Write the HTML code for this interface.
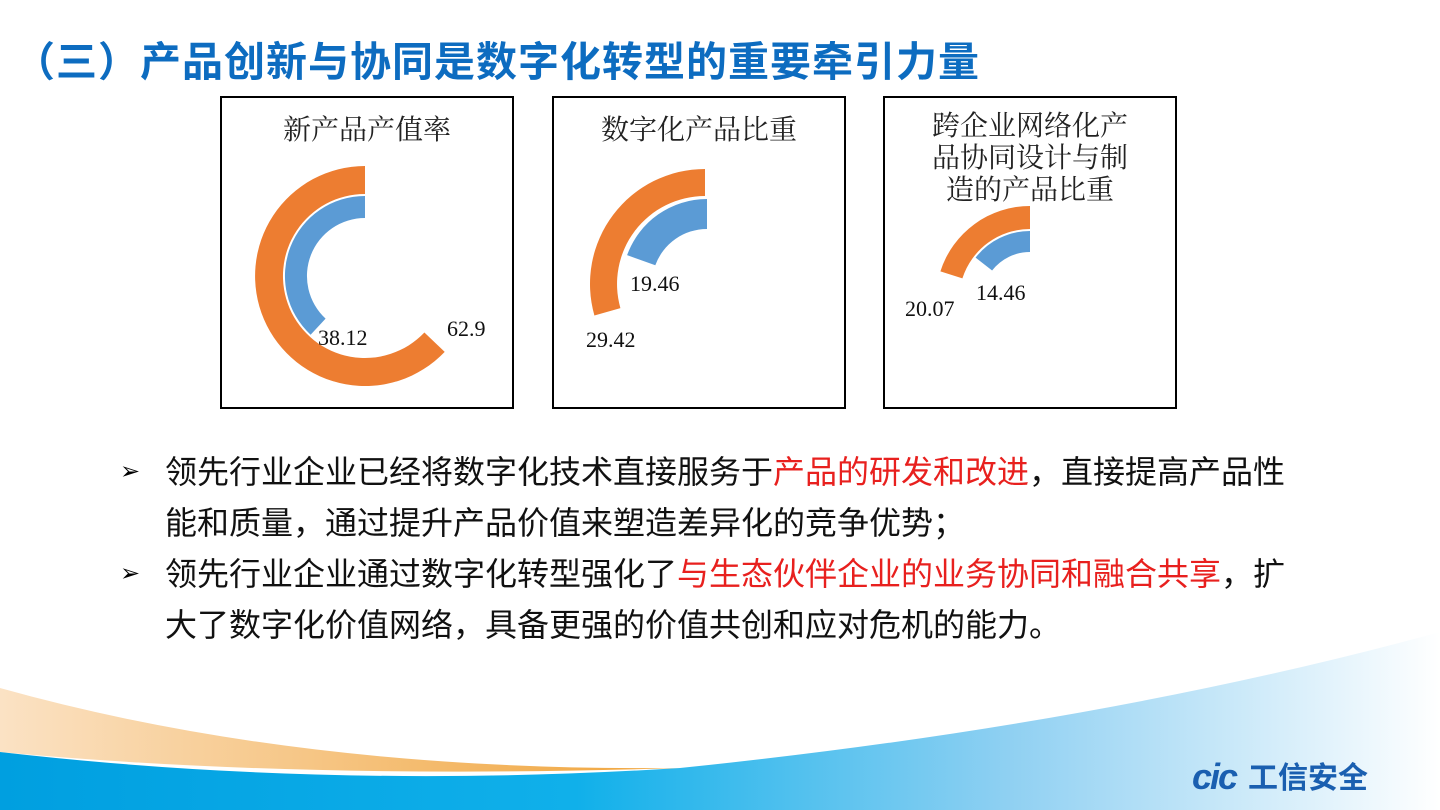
<!DOCTYPE html>
<html><head><meta charset="utf-8"><style>
html,body{margin:0;padding:0;}
body{width:1440px;height:810px;position:relative;overflow:hidden;background:#fff;font-family:"Liberation Sans","Noto Sans CJK SC",sans-serif;}
.title{position:absolute;left:14px;top:28px;font-size:41px;font-weight:bold;color:#0d6cc0;letter-spacing:1px;white-space:nowrap;}
.box{position:absolute;top:96px;width:290px;height:309px;border:2px solid #000;box-sizing:content-box;}
.ct{position:absolute;left:0;right:0;text-align:center;font-family:"Liberation Serif","Noto Serif CJK SC",serif;font-size:28px;color:#222;line-height:32px;}
.body{position:absolute;left:120px;font-size:32px;color:#111;line-height:51px;white-space:nowrap;}
.red{color:#e8201e;}
.arrow{position:absolute;left:120px;font-size:24px;}
</style></head><body>
<svg width="1440" height="810" style="position:absolute;left:0;top:0">
<defs>
<linearGradient id="bl" x1="0" x2="1" y1="0" y2="0">
<stop offset="0" stop-color="#009fe0"/><stop offset="0.4" stop-color="#10b0ea"/><stop offset="0.7" stop-color="#8fd0f2"/><stop offset="1" stop-color="#ffffff"/>
</linearGradient>
<linearGradient id="or" x1="0" x2="1" y1="0" y2="0">
<stop offset="0" stop-color="#fbe2c4"/><stop offset="1" stop-color="#f0a43a"/>
</linearGradient>
</defs>
<path d="M0,688 Q300,772 680,768 Q300,780 0,752 Z" fill="url(#or)"/>
<path d="M0,752 Q330,790 680,768 Q1100,725 1440,632 L1440,810 L0,810 Z" fill="url(#bl)"/>
<path d="M365,166 A110,110 0 1 0 444.7,351.9 L424.4,332.5 A82,82 0 1 1 365,194 Z" fill="#ed7d31"/>
<path d="M365,196 A80,80 0 0 0 310.6,334.7 L325.6,318.6 A58,58 0 0 1 365,218 Z" fill="#5b9bd5"/>
<path d="M705,169 A115,115 0 0 0 594.4,315.5 L620.4,308.1 A88,88 0 0 1 705,196 Z" fill="#ed7d31"/>
<path d="M707,199 A85,85 0 0 0 627.1,255.1 L655.3,265.3 A55,55 0 0 1 707,229 Z" fill="#5b9bd5"/>
<path d="M1030,206 A94,94 0 0 0 940.4,271.4 L962.4,278.4 A71,71 0 0 1 1030,229 Z" fill="#ed7d31"/>
<path d="M1030,231 A69,69 0 0 0 975.6,257.6 L992.1,270.5 A48,48 0 0 1 1030,252 Z" fill="#5b9bd5"/>
<g font-family="Liberation Serif, serif" font-size="22" fill="#111">
<text x="318" y="345">38.12</text><text x="447" y="336">62.9</text>
<text x="630" y="291">19.46</text><text x="586" y="347">29.42</text>
<text x="976" y="300">14.46</text><text x="905" y="316">20.07</text>
</g>
<text x="1192" y="789" font-family="Liberation Sans, sans-serif" font-size="36" font-weight="bold" font-style="italic" fill="#1a5fb0" letter-spacing="-2">cic</text>
<text x="1248" y="788" font-family="Liberation Sans, Noto Sans CJK SC, sans-serif" font-size="30" font-weight="bold" fill="#1a5fb0">工信安全</text>
</svg>
<div class="title">（三）产品创新与协同是数字化转型的重要牵引力量</div>
<div class="box" style="left:220px"><div class="ct" style="top:17px">新产品产值率</div></div>
<div class="box" style="left:552px"><div class="ct" style="top:17px">数字化产品比重</div></div>
<div class="box" style="left:883px"><div class="ct" style="top:13px;line-height:32px">跨企业网络化产<br>品协同设计与制<br>造的产品比重</div></div>
<div class="arrow" style="top:457px">➢</div>
<div class="arrow" style="top:559px">➢</div>
<div class="body" style="left:165px;top:447px">领先行业企业已经将数字化技术直接服务于<span class="red">产品的研发和改进</span>，直接提高产品性<br>能和质量，通过提升产品价值来塑造差异化的竞争优势；<br>领先行业企业通过数字化转型强化了<span class="red">与生态伙伴企业的业务协同和融合共享</span>，扩<br>大了数字化价值网络，具备更强的价值共创和应对危机的能力。</div>
</body></html>
